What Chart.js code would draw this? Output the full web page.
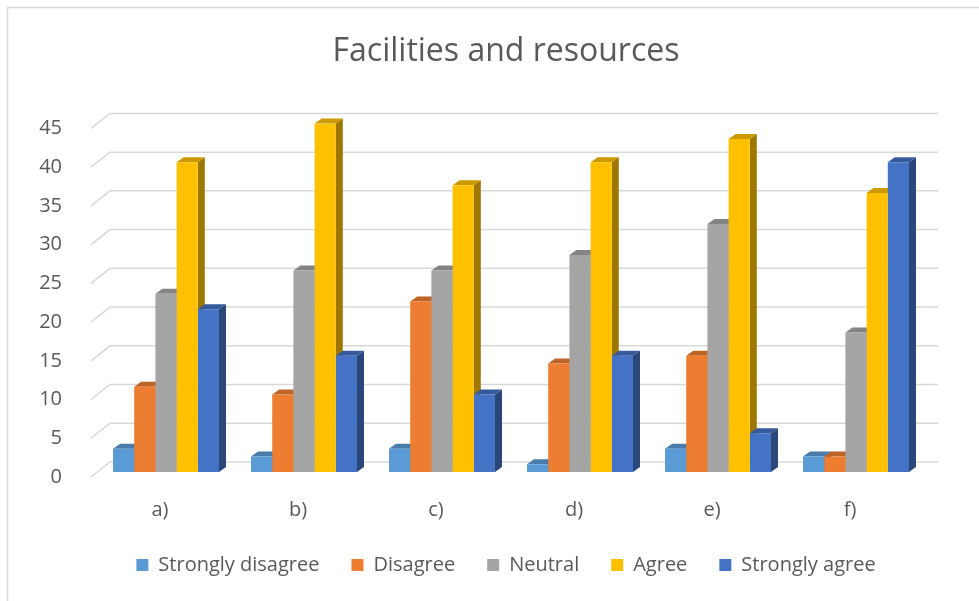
<!DOCTYPE html>
<html>
<head>
<meta charset="utf-8">
<title>Facilities and resources</title>
<script src="https://cdn.jsdelivr.net/npm/chart.js@4"></script>
<style>
  html, body { margin: 0; padding: 0; background: #fff; }
  #wrap { width: 979px; height: 601px; position: relative; }
</style>
</head>
<body>
<div id="wrap"><canvas id="facilitiesChart"></canvas></div>
<script>
// chart data
const categories = ['a)', 'b)', 'c)', 'd)', 'e)', 'f)'];
const seriesNames = ['Strongly disagree', 'Disagree', 'Neutral', 'Agree', 'Strongly agree'];
const stronglyDisagree = [3, 2, 3, 1, 3, 2];
const disagree = [11, 10, 22, 14, 15, 2];
const neutral = [23, 26, 26, 28, 32, 18];
const agree = [40, 45, 37, 40, 43, 36];
const stronglyAgree = [21, 15, 10, 15, 5, 40];
const yTickValues = [0, 5, 10, 15, 20, 25, 30, 35, 40, 45];

const seriesColors = ['#5B9BD5', '#ED7D31', '#A5A5A5', '#FFC000', '#4472C4'];
const textColor = '#595959';
const gridColor = '#d9d9d9';
const fontName = "'Open Sans', sans-serif";

// depth of the fake 3D bars
const depthX = 7;
const depthY = -5;

// darken a hex colour
function shade(hex, f) {
    const n = parseInt(hex.slice(1), 16);
    const r = Math.round(((n >> 16) & 255) * f);
    const g = Math.round(((n >> 8) & 255) * f);
    const b = Math.round((n & 255) * f);
    return 'rgb(' + r + ',' + g + ',' + b + ')';
}

// white background and the light frame
const framePlugin = {
    id: 'frame',
    beforeDraw(chart) {
        const ctx = chart.ctx;
        ctx.save();
        ctx.fillStyle = '#fff';
        ctx.fillRect(0, 0, chart.width, chart.height);
        ctx.strokeStyle = gridColor;
        ctx.lineWidth = 1.5;
        ctx.strokeRect(7.5, 7.5, chart.width + 10, chart.height + 10);
        ctx.restore();
    }
};

// back wall grid lines and 3D faces of the bars
const bar3dPlugin = {
    id: 'bar3d',
    beforeDatasetsDraw(chart) {
        const ctx = chart.ctx;
        const area = chart.chartArea;
        const yScale = chart.scales.y;
        ctx.save();

        // grid: short diagonal on the floor side, then the back wall line
        ctx.strokeStyle = gridColor;
        ctx.lineWidth = 1.5;
        yScale.ticks.forEach(t => {
            const yb = yScale.getPixelForValue(t.value);
            ctx.beginPath();
            ctx.moveTo(area.left - 6, yb + 5);
            ctx.lineTo(area.left + 13, yb - 10);
            ctx.lineTo(area.right + 13, yb - 10);
            ctx.stroke();
        });

        const metas = chart.getSortedVisibleDatasetMetas();

        // right side faces
        metas.forEach(meta => {
            const color = seriesColors[meta.index];
            meta.data.forEach(bar => {
                const right = bar.x + bar.width / 2;
                ctx.fillStyle = shade(color, 0.62);
                ctx.beginPath();
                ctx.moveTo(right, bar.y);
                ctx.lineTo(right + depthX, bar.y + depthY);
                ctx.lineTo(right + depthX, bar.base + depthY);
                ctx.lineTo(right, bar.base);
                ctx.closePath();
                ctx.fill();
            });
        });

        // top faces
        metas.forEach(meta => {
            const color = seriesColors[meta.index];
            meta.data.forEach(bar => {
                const left = bar.x - bar.width / 2;
                const right = bar.x + bar.width / 2;
                ctx.fillStyle = shade(color, 0.8);
                ctx.beginPath();
                ctx.moveTo(left, bar.y);
                ctx.lineTo(left + depthX, bar.y + depthY);
                ctx.lineTo(right + depthX, bar.y + depthY);
                ctx.lineTo(right, bar.y);
                ctx.closePath();
                ctx.fill();
            });
        });

        ctx.restore();
    }
};

function renderChart() {
    const ctx = document.getElementById('facilitiesChart').getContext('2d');
    const values = [stronglyDisagree, disagree, neutral, agree, stronglyAgree];

    const datasets = seriesNames.map((name, i) => ({
        label: name,
        data: values[i],
        backgroundColor: seriesColors[i],
        borderWidth: 0,
        barPercentage: 1,
        categoryPercentage: 0.768
    }));

    new Chart(ctx, {
        type: 'bar',
        data: { labels: categories, datasets: datasets },
        options: {
            responsive: true,
            maintainAspectRatio: false,
            animation: false,
            layout: { padding: { left: 33, right: 0, top: 0, bottom: 18 } },
            scales: {
                x: {
                    grid: { display: false },
                    border: { display: false },
                    ticks: {
                        color: textColor,
                        font: { family: fontName, size: 20 },
                        padding: 18,
                        labelOffset: -6
                    },
                    afterFit(scale) { scale.height = 51; }
                },
                y: {
                    min: 0,
                    max: 45,
                    grid: { display: false },
                    border: { display: false },
                    ticks: {
                        color: textColor,
                        font: { family: fontName, size: 20 },
                        padding: 27,
                        labelOffset: 5
                    },
                    afterBuildTicks(scale) {
                        scale.ticks = yTickValues.map(v => ({ value: v }));
                    },
                    afterFit(scale) { scale.width = 64; }
                },
                yRight: {
                    position: 'right',
                    display: true,
                    grid: { display: false },
                    border: { display: false },
                    ticks: { display: false },
                    afterFit(scale) { scale.width = 54; }
                }
            },
            plugins: {
                title: {
                    display: true,
                    text: 'Facilities and resources',
                    color: textColor,
                    font: { family: fontName, size: 32, weight: 'normal' },
                    padding: { top: 33, bottom: 52 }
                },
                legend: {
                    position: 'bottom',
                    maxHeight: 60,
                    labels: {
                        color: textColor,
                        font: { family: fontName, size: 20 },
                        boxWidth: 12,
                        boxHeight: 12,
                        padding: 32
                    }
                },
                tooltip: { enabled: false }
            }
        },
        plugins: [framePlugin, bar3dPlugin]
    });
}

document.addEventListener('DOMContentLoaded', function() {
    renderChart();
});
</script>
</body>
</html>
